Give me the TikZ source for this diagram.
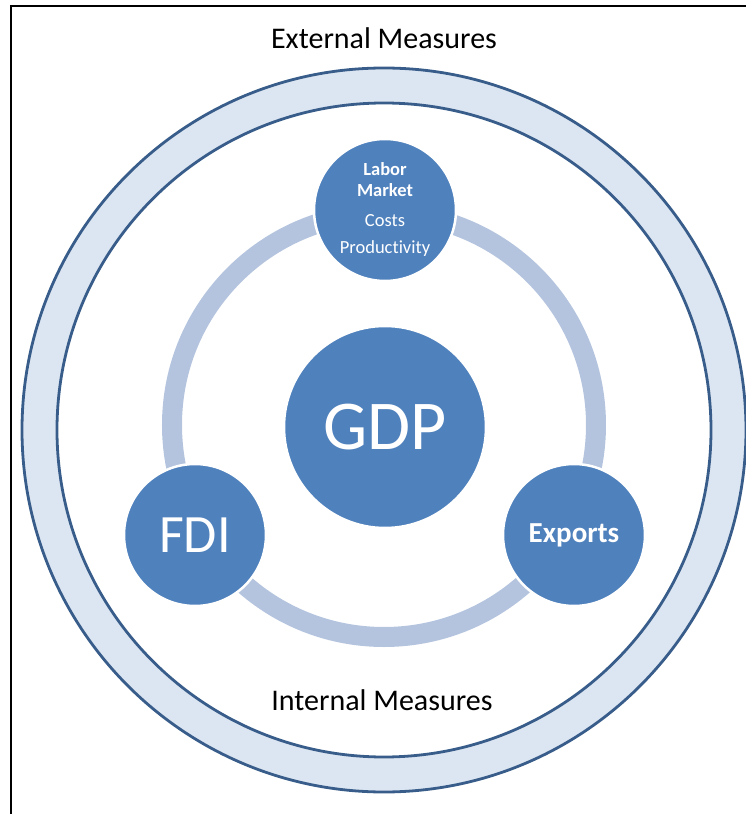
\documentclass[tikz,border=0pt]{standalone}
\usepackage{fontspec}
\setmainfont{Carlito}[Ligatures=CommonOff]
\definecolor{blu}{RGB}{79,129,189}
\definecolor{anellochiaro}{RGB}{180,196,222}
\definecolor{fascia}{RGB}{220,230,242}
\definecolor{bordo}{RGB}{56,93,138}

\begin{document}
\begin{tikzpicture}[
    x=1pt,y=1pt,
    bolla/.style={circle,fill=blu,draw=white,line width=2.5pt,text=white,
                  inner sep=0pt,minimum size=142pt,align=center},
    anello/.style={draw=anellochiaro,line width=20pt},
    bordoanello/.style={draw=bordo,line width=2.8pt},
    scritta/.style={font=\fontsize{30}{36}\selectfont}]

  \useasboundingbox (-384,-385) rectangle (362,429);

  %% ============================ cornice ====================================
  \draw[line width=2pt] (-373,-420) |- (400,423);

  %% ========================= fascia esterna ================================
  \fill[fascia,even odd rule] (0,-1) circle (362) (0,-1) circle (327);
  \draw[bordoanello] (0,-1) circle (362);
  \draw[bordoanello] (0,-1) circle (327);

  %% ========================= anello interno ================================
  \draw[anello] (0,4) circle (212);

  %% ============================== bolle ====================================
  \node[bolla,minimum size=202pt,font=\fontsize{70}{80}\selectfont]
    (gdp) at (1,2) {GDP};
  \node[bolla,font=\fontsize{18.5}{21}\selectfont] (lavoro) at (1,219)
    {\textbf{Labor}\\\textbf{Market}\\[9pt]Costs\\[6pt]Productivity};
  \node[bolla,font=\fontsize{54}{60}\selectfont] (fdi) at (-189,-106) {FDI};
  \node[bolla,font=\fontsize{29}{34}\selectfont\bfseries] (export) at (190,-106) {Exports};

  %% ============================= scritte ===================================
  \node[scritta] (esterne) at (0,391) {External Measures};
  \node[scritta] (interne) at (-2,-271) {Internal Measures};

\end{tikzpicture}
\end{document}
